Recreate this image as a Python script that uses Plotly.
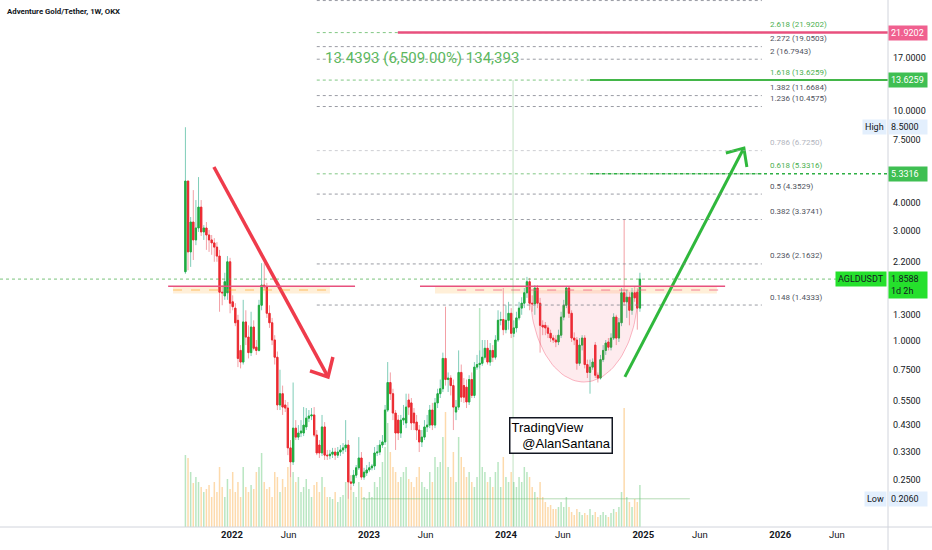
import math
import pandas as pd
import plotly.graph_objects as go

# ---------------- data (AGLD/USDT weekly) ----------------
first_week = "2021-08-30"

opens = [
    2.00, 4.96, 2.44, 3.29, 2.75, 3.10, 3.82, 2.98, 3.10, 2.89,
    2.75, 2.67, 2.56, 2.34, 1.63, 1.57, 1.62, 2.21, 1.48, 1.39,
    1.23, 0.91, 0.81, 1.21, 1.04, 0.89, 1.15, 0.94, 0.91, 1.43,
    1.75, 1.72, 1.32, 1.20, 1.01, 0.85, 0.527, 0.59, 0.527, 0.511,
    0.343, 0.298, 0.418, 0.382, 0.398, 0.398, 0.423, 0.462, 0.472, 0.477,
    0.390, 0.353, 0.326, 0.423, 0.319, 0.317, 0.322, 0.329, 0.319, 0.329,
    0.336, 0.343, 0.353, 0.244, 0.241, 0.261, 0.281, 0.310, 0.256, 0.267,
    0.275, 0.281, 0.286, 0.326, 0.329, 0.353, 0.364, 0.501, 0.66, 0.59,
    0.486, 0.453, 0.398, 0.453, 0.440, 0.554, 0.538, 0.486, 0.444, 0.410,
    0.364, 0.382, 0.423, 0.431, 0.501, 0.431, 0.538, 0.59, 0.62, 0.84,
    0.68, 0.69, 0.64, 0.491, 0.516, 0.73, 0.64, 0.63, 0.543, 0.68,
    0.58, 0.77, 0.79, 0.80, 0.85, 0.93, 0.81, 0.91, 0.85, 1.01,
    1.23, 1.24, 1.12, 1.23, 1.32, 1.08, 1.14, 1.26, 1.39, 1.46,
    1.62, 1.81, 1.46, 1.45, 1.70, 1.46, 1.17, 1.17, 1.14, 1.08,
    1.03, 1.01, 0.99, 1.06, 1.27, 1.43, 1.70, 1.32, 1.03, 1.01,
    0.80, 0.96, 1.03, 0.79, 0.73, 0.77, 0.96, 0.71, 0.69, 0.83,
    0.91, 0.99, 0.94, 1.03, 1.27, 1.03, 1.20, 1.62, 1.48, 1.55,
    1.36, 1.62, 1.63, 1.39,
]
highs = [
    8.50, 4.96, 3.46, 4.53, 4.10, 5.16, 4.10, 3.19, 3.29, 3.04,
    2.89, 2.80, 2.69, 2.49, 1.75, 1.98, 2.34, 2.30, 1.58, 1.46,
    1.30, 0.96, 1.51, 1.36, 1.17, 1.34, 1.23, 1.01, 1.51, 2.18,
    2.18, 1.79, 1.43, 1.26, 1.06, 0.90, 0.75, 0.64, 0.554, 0.543,
    0.371, 0.66, 0.453, 0.431, 0.453, 0.516, 0.511, 0.501, 0.511, 0.516,
    0.410, 0.371, 0.477, 0.444, 0.336, 0.336, 0.343, 0.343, 0.346, 0.353,
    0.360, 0.453, 0.371, 0.261, 0.275, 0.289, 0.382, 0.329, 0.281, 0.289,
    0.298, 0.292, 0.346, 0.353, 0.371, 0.390, 0.527, 0.81, 0.73, 0.62,
    0.501, 0.477, 0.477, 0.527, 0.59, 0.59, 0.565, 0.511, 0.477, 0.431,
    0.410, 0.453, 0.477, 0.527, 0.538, 0.565, 0.62, 0.68, 0.89, 1.41,
    0.73, 0.71, 0.68, 0.554, 0.91, 0.79, 0.69, 0.68, 0.71, 0.73,
    0.81, 0.87, 0.91, 1.01, 1.01, 1.01, 0.98, 0.96, 1.06, 1.36,
    1.34, 1.70, 1.43, 1.48, 1.39, 1.23, 1.34, 1.48, 1.55, 1.70,
    1.90, 1.88, 1.58, 1.75, 1.75, 1.54, 1.23, 1.21, 1.17, 1.12,
    1.06, 1.06, 1.12, 1.34, 1.51, 1.72, 1.72, 1.36, 1.09, 1.04,
    1.03, 1.06, 1.06, 0.83, 0.83, 0.84, 0.99, 0.73, 0.87, 0.96,
    1.01, 1.03, 1.08, 1.32, 1.30, 1.26, 1.70, 3.37, 1.67, 1.63,
    1.70, 1.72, 1.70, 1.98,
]
lows = [
    1.96, 2.03, 2.10, 2.25, 2.61, 2.98, 2.86, 2.75, 2.49, 2.44,
    2.37, 2.21, 2.21, 1.34, 1.43, 1.51, 1.51, 1.32, 1.36, 1.16,
    0.77, 0.76, 0.79, 0.96, 0.84, 0.86, 0.91, 0.87, 0.90, 1.36,
    1.67, 1.26, 1.14, 0.96, 0.79, 0.501, 0.501, 0.477, 0.491, 0.319,
    0.256, 0.289, 0.371, 0.371, 0.382, 0.386, 0.410, 0.444, 0.453, 0.382,
    0.319, 0.310, 0.316, 0.304, 0.304, 0.306, 0.310, 0.304, 0.310, 0.316,
    0.323, 0.329, 0.206, 0.225, 0.234, 0.254, 0.275, 0.249, 0.249, 0.259,
    0.269, 0.274, 0.275, 0.316, 0.319, 0.343, 0.353, 0.491, 0.554, 0.453,
    0.336, 0.371, 0.379, 0.431, 0.418, 0.477, 0.410, 0.410, 0.371, 0.329,
    0.346, 0.371, 0.402, 0.418, 0.410, 0.418, 0.511, 0.565, 0.60, 0.64,
    0.60, 0.58, 0.410, 0.453, 0.501, 0.543, 0.538, 0.511, 0.527, 0.565,
    0.565, 0.75, 0.76, 0.78, 0.83, 0.79, 0.78, 0.81, 0.83, 0.99,
    1.17, 1.06, 1.08, 1.12, 1.03, 1.04, 1.09, 1.23, 1.30, 1.39,
    1.54, 1.36, 1.34, 1.30, 1.39, 0.89, 1.06, 1.06, 1.03, 0.99,
    0.98, 0.94, 0.96, 1.03, 1.23, 1.39, 1.26, 0.99, 0.96, 0.75,
    0.78, 0.91, 0.76, 0.69, 0.59, 0.75, 0.69, 0.66, 0.68, 0.81,
    0.87, 0.91, 0.91, 1.01, 0.96, 0.99, 1.16, 1.43, 1.26, 1.17,
    1.30, 1.48, 1.12, 1.34,
]
closes = [
    4.96, 2.44, 3.29, 2.75, 3.10, 3.82, 2.98, 3.10, 2.89, 2.75,
    2.67, 2.56, 2.34, 1.63, 1.62, 1.81, 2.21, 1.46, 1.41, 1.20,
    0.84, 0.81, 1.21, 1.04, 0.89, 1.15, 0.93, 0.91, 1.43, 1.75,
    1.72, 1.32, 1.20, 1.01, 0.85, 0.527, 0.59, 0.516, 0.511, 0.343,
    0.298, 0.418, 0.382, 0.398, 0.406, 0.431, 0.462, 0.472, 0.477, 0.390,
    0.326, 0.326, 0.423, 0.319, 0.317, 0.322, 0.329, 0.319, 0.329, 0.336,
    0.343, 0.353, 0.244, 0.241, 0.261, 0.281, 0.310, 0.256, 0.269, 0.275,
    0.281, 0.286, 0.326, 0.329, 0.353, 0.364, 0.501, 0.66, 0.59, 0.486,
    0.398, 0.398, 0.453, 0.462, 0.516, 0.516, 0.440, 0.440, 0.410, 0.364,
    0.382, 0.423, 0.431, 0.501, 0.431, 0.538, 0.59, 0.62, 0.84, 0.68,
    0.69, 0.64, 0.516, 0.516, 0.73, 0.57, 0.57, 0.543, 0.68, 0.58,
    0.77, 0.79, 0.80, 0.85, 0.93, 0.81, 0.91, 0.85, 1.01, 1.23,
    1.24, 1.12, 1.23, 1.32, 1.08, 1.14, 1.26, 1.39, 1.46, 1.62,
    1.81, 1.46, 1.45, 1.70, 1.46, 1.17, 1.15, 1.14, 1.08, 1.03,
    1.01, 0.99, 1.06, 1.27, 1.43, 1.70, 1.32, 1.03, 1.01, 0.80,
    0.96, 1.03, 0.79, 0.73, 0.77, 0.81, 0.71, 0.69, 0.83, 0.91,
    0.98, 0.94, 1.03, 1.27, 1.03, 1.20, 1.62, 1.48, 1.55, 1.36,
    1.62, 1.54, 1.39, 1.8588,
]
volume_k = [
    72, 69, 55, 44, 50, 45, 40, 35, 38, 42,
    30, 45, 35, 60, 40, 30, 48, 38, 55, 35,
    45, 30, 60, 40, 35, 42, 38, 55, 60, 74,
    45, 38, 40, 30, 55, 50, 35, 48, 40, 60,
    70, 55, 45, 50, 35, 40, 48, 38, 30, 42,
    45, 35, 50, 40, 30, 30, 28, 35, 25, 30,
    32, 45, 65, 40, 35, 30, 45, 40, 30, 28,
    35, 30, 45, 40, 50, 65, 80, 104, 75, 60,
    55, 45, 50, 55, 60, 48, 45, 40, 50, 60,
    45, 40, 38, 55, 45, 70, 60, 65, 90, 115,
    60, 50, 75, 45, 90, 70, 60, 50, 55, 45,
    40, 50, 219, 60, 55, 45, 50, 40, 55, 65,
    40, 70, 50, 45, 55, 45, 40, 50, 45, 60,
    55, 50, 40, 35, 30, 45, 30, 25, 20, 22,
    18, 18, 20, 25, 20, 30, 20, 15, 12, 18,
    15, 12, 14, 12, 18, 12, 15, 10, 12, 15,
    12, 10, 14, 18, 15, 20, 35, 119, 30, 25,
    20, 28, 25, 42,
]

fib_ratios = ["0.148", "0.236", "0.382", "0.5", "0.618", "0.786",
              "1.236", "1.382", "1.618", "2", "2.272", "2.618", "3.618"]
fib_prices = [1.4333, 2.1632, 3.3741, 4.3529, 5.3316, 6.7250,
              10.4575, 11.6684, 13.6259, 16.7943, 19.0503, 21.9202, 30.21]

y_tick_values = [30, 17, 10, 7.5, 4, 3, 2.2, 1.3, 1.0, 0.75, 0.55, 0.43, 0.33, 0.25]
x_tick_dates = ["2022-01-01", "2022-06-01", "2023-01-01", "2023-06-01", "2024-01-01",
                "2024-06-01", "2025-01-01", "2025-06-01", "2026-01-01", "2026-06-01"]
x_tick_labels = ["<b>2022</b>", "Jun", "<b>2023</b>", "Jun", "<b>2024</b>",
                 "Jun", "<b>2025</b>", "Jun", "<b>2026</b>", "Jun"]

last_price = 1.8588
high_price = 8.5000
low_price = 0.2060
target_pink = 21.9202
target_green = 13.6259
target_fib = 5.3316
resistance = 1.73

# ---------------- figure ----------------
assert len(opens) == len(highs) == len(lows) == len(closes) == len(volume_k)
dates = pd.date_range(first_week, periods=len(closes), freq="7D")

FONT = "Roboto, Arial, sans-serif"
TXT = "#131722"
UP, DOWN = "#22ab3e", "#eb2a30"
WICK_UP, WICK_DOWN = "#7fcdb8", "#f3a0a6"
VOL_UP, VOL_DOWN = "rgba(100,200,120,0.45)", "rgba(250,172,70,0.45)"
PINK = "#e8507e"
GREEN = "#43b649"


def L(p):
    return math.log10(p)


fig = go.Figure()

vol_colors = [VOL_UP if c >= o else VOL_DOWN for o, c in zip(opens, closes)]
fig.add_trace(go.Bar(x=dates, y=volume_k, marker=dict(color=vol_colors, line=dict(width=0)),
                     width=4 * 86400000, yaxis="y", hoverinfo="skip"))

fig.add_trace(go.Candlestick(
    x=dates, open=opens, high=highs, low=lows, close=closes, yaxis="y2",
    increasing=dict(line=dict(color=WICK_UP, width=1), fillcolor=WICK_UP),
    decreasing=dict(line=dict(color=WICK_DOWN, width=1), fillcolor=WICK_DOWN),
    hoverinfo="skip"))
fig.add_trace(go.Candlestick(
    x=dates, open=opens, close=closes,
    high=[max(o, c) for o, c in zip(opens, closes)],
    low=[min(o, c) for o, c in zip(opens, closes)], yaxis="y2",
    increasing=dict(line=dict(color=UP, width=1), fillcolor=UP),
    decreasing=dict(line=dict(color=DOWN, width=1), fillcolor=DOWN),
    hoverinfo="skip"))

# cup drawing (half ellipse in date / log-price space)
cup_center = pd.Timestamp("2024-07-27")
cup_days, cup_top, cup_depth = 144, 1.666, 0.40
cx, cy = [], []
for i in range(61):
    t = math.pi * i / 60
    cx.append(cup_center + pd.Timedelta(days=cup_days * math.cos(t)))
    cy.append(10 ** (L(cup_top) - cup_depth * math.sin(t)))
fig.add_trace(go.Scatter(x=cx, y=cy, yaxis="y2", mode="lines", fill="toself",
                         fillcolor="rgba(242,54,90,0.10)",
                         line=dict(color="rgba(242,54,90,0.35)", width=1), hoverinfo="skip"))


def arrow(start, tip, wing1, wing2, color, width):
    fig.add_trace(go.Scatter(x=[start[0], tip[0], None, wing1[0], tip[0], wing2[0]],
                             y=[start[1], tip[1], None, wing1[1], tip[1], wing2[1]],
                             yaxis="y2", mode="lines", line=dict(color=color, width=width),
                             hoverinfo="skip"))


arrow(("2021-11-14", 5.71), ("2022-09-14", 0.698), ("2022-07-28", 0.741), ("2022-09-27", 0.852),
      "#ef3b4b", 3.5)
arrow(("2024-11-13", 0.698), ("2025-09-26", 6.90), ("2025-08-09", 6.57), ("2025-10-04", 5.71),
      "#2fb83c", 3)

shapes = []
annotations = []


def hline(x0, x1, price, color, width=1, dash="solid", xref="x", layer="above"):
    shapes.append(dict(type="line", xref=xref, yref="y2", x0=x0, x1=x1, y0=price, y1=price,
                       line=dict(color=color, width=width, dash=dash), layer=layer))


FIB_START, FIB_END, FIB_LABEL = "2022-08-15", "2025-11-13", "2025-11-29"
for r, p in zip(fib_ratios, fib_prices):
    if r in ("0.618", "1.618", "2.618"):
        lc, tc = "rgba(76,175,80,0.7)", "#4caf50"
    elif r == "0.786":
        lc, tc = "rgba(170,172,180,0.6)", "#b2b5be"
    else:
        lc, tc = "rgba(120,123,134,0.75)", "#50535e"
    hline(FIB_START, FIB_END, p, lc, 1, "dot")
    if r != "3.618":
        annotations.append(dict(xref="x", yref="y2", x=FIB_LABEL, y=L(p), xanchor="left",
                                yanchor="middle", yshift=8, showarrow=False,
                                text=f"{r} ({p:.4f})", font=dict(size=8, color=tc, family=FONT)))

hline(0, 1, last_price, "rgba(76,175,80,0.75)", 1, "dot", xref="paper")
hline("2023-03-19", "2026-10-15", target_pink, PINK, 2.5)
hline("2024-08-12", "2026-10-15", target_green, GREEN, 2)
hline("2024-08-12", "2026-10-15", target_fib, "#2eaf45", 1.5, "dot")
hline("2022-12-12", "2025-05-05", low_price, "rgba(120,190,120,0.55)", 1)

for b0, b1, l0, l1, d0, d1, dc in [
    ("2021-07-28", "2022-09-19", "2021-07-15", "2022-11-25", "2021-07-28", "2022-09-19",
     "rgba(255,152,0,0.55)"),
    ("2023-06-26", "2025-07-16", "2023-05-17", "2025-08-07", "2023-08-24", "2025-08-07",
     "rgba(240,80,120,0.7)"),
]:
    shapes.append(dict(type="rect", xref="x", yref="y2", x0=b0, x1=b1, y0=1.61, y1=1.72,
                       fillcolor="rgba(255,183,77,0.22)", line=dict(width=0), layer="below"))
    hline(d0, d1, 1.666, dc, 1, "dash")
    hline(l0, l1, resistance, PINK, 1.5)

shapes.append(dict(type="line", xref="x", yref="y2", x0="2024-01-20", x1="2024-01-20",
                   y0=0.15, y1=target_green, line=dict(color="rgba(76,175,80,0.35)", width=1)))

shapes.append(dict(type="line", xref="paper", yref="paper", x0=1, x1=1, y0=-0.05, y1=1,
                   line=dict(color="#d1d4dc", width=1)))
shapes.append(dict(type="line", xref="paper", yref="paper", x0=0, x1=1.05, y0=0, y1=0,
                   line=dict(color="#d1d4dc", width=1)))

annotations.append(dict(xref="paper", yref="paper", x=5 / 888, y=1 - 11 / 527, xanchor="left",
                        yanchor="middle", showarrow=False,
                        text="<b>Adventure Gold/Tether, 1W, OKX</b>",
                        font=dict(size=7.8, color=TXT, family=FONT)))
annotations.append(dict(xref="paper", yref="paper", x=422 / 888, y=1 - 58 / 527,
                        xanchor="center", yanchor="middle", showarrow=False,
                        text="13.4393 (6,509.00%) 134,393",
                        font=dict(size=15, color="#5cb860", family=FONT)))
annotations.append(dict(xref="paper", yref="paper", x=561 / 888, y=1 - 435 / 527,
                        xanchor="center", yanchor="middle", showarrow=False, align="left",
                        text="TradingView<br>\u00a0\u00a0\u00a0@AlanSantana",
                        font=dict(size=13, color="#000000", family="Liberation Sans, Arial"),
                        bgcolor="#ffffff", bordercolor="#131722", borderwidth=1.5, borderpad=1))


def axis_label(price, text, bg, fg, yanchor="middle", yshift=0):
    annotations.append(dict(xref="paper", x=1.0, xanchor="left", yref="y2", y=L(price),
                            yanchor=yanchor, yshift=yshift, text=text, showarrow=False,
                            bgcolor=bg, font=dict(size=9, color=fg, family=FONT),
                            borderpad=2, width=34, align="left"))


def side_tag(price, text, bg, fg):
    annotations.append(dict(xref="paper", x=1.0, xanchor="right", xshift=-1, yref="y2",
                            y=L(price), yanchor="middle", text=text, showarrow=False,
                            bgcolor=bg, font=dict(size=9, color=fg, family=FONT), borderpad=2))


axis_label(target_pink, f"{target_pink:.4f}", "#f0608f", "#ffffff")
axis_label(target_green, f"{target_green:.4f}", "#3fbf52", "#ffffff")
axis_label(high_price, f"{high_price:.4f}", "#e3effd", TXT)
side_tag(high_price, "High", "#e3effd", TXT)
axis_label(target_fib, f"{target_fib:.4f}", "#3fbf52", "#ffffff")
axis_label(last_price, f"{last_price:.4f}<br>1d 2h", "#25e02c", TXT, yanchor="top", yshift=8)
side_tag(last_price, "AGLDUSDT", "#25e02c", TXT)
axis_label(low_price, f"{low_price:.4f}", "#e3effd", TXT)
side_tag(low_price, "Low", "#e3effd", TXT)

fig.update_layout(
    width=932, height=550,
    margin=dict(l=0, r=44, t=0, b=23, autoexpand=False),
    paper_bgcolor="#ffffff", plot_bgcolor="#ffffff",
    showlegend=False, hovermode=False, dragmode=False,
    font=dict(family=FONT, color=TXT),
    xaxis=dict(type="date", range=["2020-04-23", "2026-10-15"], showgrid=False, zeroline=False,
               showline=False, ticks="", tickvals=x_tick_dates, ticktext=x_tick_labels,
               tickfont=dict(size=9.5, color=TXT, family=FONT), rangeslider=dict(visible=False),
               fixedrange=True, automargin=False),
    yaxis=dict(range=[0, 527], visible=False, fixedrange=True),
    yaxis2=dict(type="log", overlaying="y", side="right", anchor="x",
                range=[-0.8087, 1.4826], showgrid=False, zeroline=False, showline=False,
                ticks="", tickvals=y_tick_values, ticktext=[f"{v:.4f}" for v in y_tick_values],
                tickfont=dict(size=9, color=TXT, family=FONT), ticklabelstandoff=4,
                fixedrange=True, automargin=False),
    shapes=shapes,
    annotations=annotations,
)

fig.write_html("out.html", config={"displayModeBar": False},
               post_script="document.body.style.margin='0';document.body.style.overflow='hidden';")
